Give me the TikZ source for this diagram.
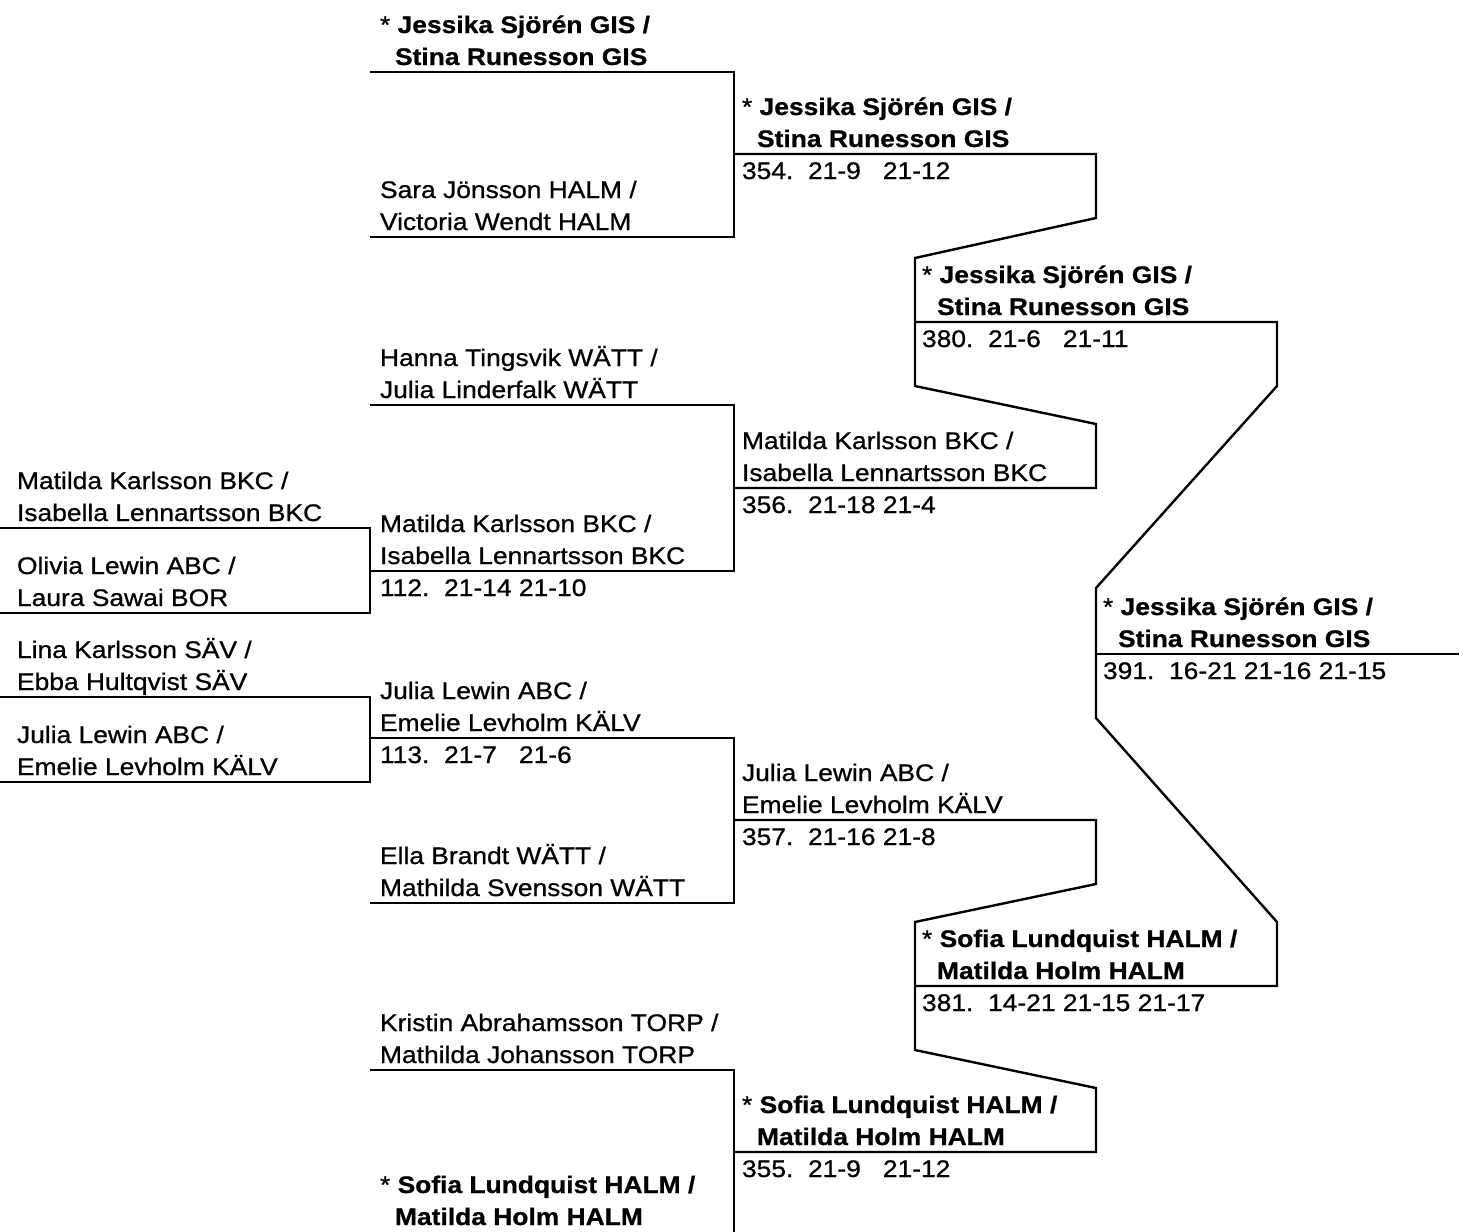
\documentclass[tikz,border=0pt]{standalone}
\usepackage{fontspec}
\setmainfont{Liberation Sans}[FakeStretch=1.1,FakeBold=0.8]
\frenchspacing
\newcommand\sco[1]{\rlap{#1}\phantom{21-12}\ }
\newcommand\entry[5]{% name, x, y of line, first line, second line
  \node (#1a) at (#2,#3-39) {#4};
  \node (#1b) at (#2,#3-7) {#5};}
\newcommand\score[4]{% name, x, y of line, text
  \node (#1) at (#2,#3+25) {#4};}
\newcommand\bracket[5]{% name, xl, xr, ytop, ybot
  \coordinate (#1-tl) at (#2,#4); \coordinate (#1-tr) at (#3,#4);
  \coordinate (#1-br) at (#3,#5); \coordinate (#1-bl) at (#2,#5);
  \draw[ln] (#1-tl) -- (#1-tr) -- (#1-br) -- (#1-bl);}
\begin{document}
\begin{tikzpicture}[x=1pt,y=-1pt,
  every node/.style={inner sep=0pt,outer sep=0pt,anchor=base west,
    font=\fontsize{24}{28}\selectfont},
  ln/.style={line width=2.4pt,black}]
\useasboundingbox (0,0) rectangle (1468,1232);

% ---- lines ----
\bracket{b112}{0}{370}{528}{613}
\bracket{b113}{0}{370}{697}{782}
\bracket{b354}{370}{734}{72}{237}
\bracket{b356}{370}{734}{405}{571}
\bracket{b357}{370}{734}{738}{903}
\coordinate (b355-tl) at (370,1070); \coordinate (b355-tr) at (734,1070);
\coordinate (b355-br) at (734,1232);
\draw[ln] (b355-tl) -- (b355-tr) -- (b355-br);

% semifinal feeders (380)
\coordinate (g1l) at (734,154); \coordinate (g1r) at (1096,154);
\coordinate (g1d) at (1096,218); \coordinate (h1t) at (915,258);
\coordinate (h1b) at (915,386); \coordinate (g2d) at (1096,424);
\coordinate (g2r) at (1096,488); \coordinate (g2l) at (734,488);
\draw[ln] (g1l) -- (g1r) -- (g1d) -- (h1t) -- (h1b) -- (g2d) -- (g2r) -- (g2l);
% semifinal feeders (381)
\coordinate (g3l) at (734,820); \coordinate (g3r) at (1096,820);
\coordinate (g3d) at (1096,884); \coordinate (h2t) at (915,922);
\coordinate (h2b) at (915,1050); \coordinate (g4d) at (1096,1088);
\coordinate (g4r) at (1096,1152); \coordinate (g4l) at (734,1152);
\draw[ln] (g3l) -- (g3r) -- (g3d) -- (h2t) -- (h2b) -- (g4d) -- (g4r) -- (g4l);
% final feeders (391)
\coordinate (h1l) at (915,322); \coordinate (h1r) at (1277,322);
\coordinate (h1d) at (1277,386); \coordinate (kt) at (1096,588);
\coordinate (kb) at (1096,718); \coordinate (h2d) at (1277,922);
\coordinate (h2r) at (1277,986); \coordinate (h2l) at (915,986);
\draw[ln] (h1l) -- (h1r) -- (h1d) -- (kt) -- (kb) -- (h2d) -- (h2r) -- (h2l);
\coordinate (kl) at (1096,654); \coordinate (kr) at (1459,654);
\draw[ln] (kl) -- (kr);

% ---- column 1 ----
\entry{e1}{17}{528}{Matilda Karlsson BKC /}{Isabella Lennartsson BKC}
\entry{e2}{17}{613}{Olivia Lewin ABC /}{Laura Sawai BOR}
\entry{e3}{17}{697}{Lina Karlsson SÄV /}{Ebba Hultqvist SÄV}
\entry{e4}{17}{782}{Julia Lewin ABC /}{Emelie Levholm KÄLV}

% ---- column 2 ----
\entry{f1}{380}{72}{* \textbf{Jessika Sjörén GIS /}}{\hspace*{15pt}\textbf{Stina Runesson GIS}}
\entry{f2}{380}{237}{Sara Jönsson HALM /}{Victoria Wendt HALM}
\entry{f3}{380}{405}{Hanna Tingsvik WÄTT /}{Julia Linderfalk WÄTT}
\entry{f4}{380}{571}{Matilda Karlsson BKC /}{Isabella Lennartsson BKC}
\score{s112}{380}{571}{112.\ \ \sco{21-14}\sco{21-10}}
\entry{f5}{380}{738}{Julia Lewin ABC /}{Emelie Levholm KÄLV}
\score{s113}{380}{738}{113.\ \ \sco{21-7}\sco{21-6}}
\entry{f6}{380}{903}{Ella Brandt WÄTT /}{Mathilda Svensson WÄTT}
\entry{f7}{380}{1070}{Kristin Abrahamsson TORP /}{Mathilda Johansson TORP}
\entry{f8}{380}{1232}{* \textbf{Sofia Lundquist HALM /}}{\hspace*{15pt}\textbf{Matilda Holm HALM}}

% ---- column 3 ----
\entry{g1}{742}{154}{* \textbf{Jessika Sjörén GIS /}}{\hspace*{15pt}\textbf{Stina Runesson GIS}}
\score{s354}{742}{154}{354.\ \ \sco{21-9}\sco{21-12}}
\entry{g2}{742}{488}{Matilda Karlsson BKC /}{Isabella Lennartsson BKC}
\score{s356}{742}{488}{356.\ \ \sco{21-18}\sco{21-4}}
\entry{g3}{742}{820}{Julia Lewin ABC /}{Emelie Levholm KÄLV}
\score{s357}{742}{820}{357.\ \ \sco{21-16}\sco{21-8}}
\entry{g4}{742}{1152}{* \textbf{Sofia Lundquist HALM /}}{\hspace*{15pt}\textbf{Matilda Holm HALM}}
\score{s355}{742}{1152}{355.\ \ \sco{21-9}\sco{21-12}}

% ---- column 4 ----
\entry{h1}{922}{322}{* \textbf{Jessika Sjörén GIS /}}{\hspace*{15pt}\textbf{Stina Runesson GIS}}
\score{s380}{922}{322}{380.\ \ \sco{21-6}\sco{21-11}}
\entry{h2}{922}{986}{* \textbf{Sofia Lundquist HALM /}}{\hspace*{15pt}\textbf{Matilda Holm HALM}}
\score{s381}{922}{986}{381.\ \ \sco{14-21}\sco{21-15}\sco{21-17}}

% ---- column 5 ----
\entry{k1}{1103}{654}{* \textbf{Jessika Sjörén GIS /}}{\hspace*{15pt}\textbf{Stina Runesson GIS}}
\score{s391}{1103}{654}{391.\ \ \sco{16-21}\sco{21-16}\sco{21-15}}
\end{tikzpicture}
\end{document}
